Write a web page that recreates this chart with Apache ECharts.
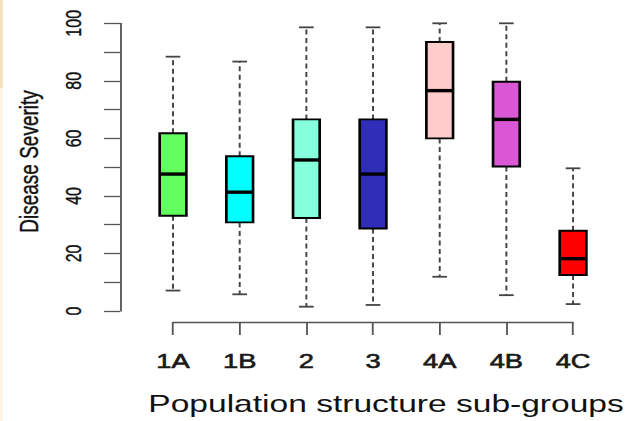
<!DOCTYPE html>
<html>
<head>
<meta charset="utf-8">
<script src="https://cdn.jsdelivr.net/npm/echarts@6/dist/echarts.min.js"></script>
<style>
html,body{margin:0;padding:0;background:#fff;overflow:hidden;width:642px;height:421px;}
#chart{width:459px;height:421px;transform:scaleX(1.39869);transform-origin:0 0;}
</style>
</head>
<body>
<div id="chart"></div>
<script>
// ---- data ----
const categories = ['1A', '1B', '2', '3', '4A', '4B', '4C'];
const lowWhisker    = [7.1, 5.8, 1.5, 2.1, 11.9, 5.5, 2.4];
const lowerQuartile = [33.1, 30.8, 32.3, 28.7, 60.0, 50.2, 12.5];
const medians       = [47.6, 41.3, 52.5, 47.6, 76.6, 66.6, 18.2];
const upperQuartile = [61.8, 53.8, 66.6, 66.6, 93.5, 79.7, 27.9];
const highWhisker   = [88.4, 86.7, 98.6, 98.6, 100, 100, 49.6];
const yTickLabels   = [0, 20, 40, 60, 80, 100];

// ---- styling ----
const boxColors = ['#62FF5E', '#00FFFF', '#85FFDC', '#2E2EB8', '#FFCCCC', '#DA58D6', '#FF0000'];
const FONT = 'Liberation Sans, Arial, sans-serif';

const boxData = categories.map((c, i) => [i, lowWhisker[i], lowerQuartile[i], medians[i], upperQuartile[i], highWhisker[i]]);

function renderBox(params, api) {
  const i = api.value(0);
  const pLow = api.coord([i, api.value(1)]);
  const pQ1 = api.coord([i, api.value(2)]);
  const pMed = api.coord([i, api.value(3)]);
  const pQ3 = api.coord([i, api.value(4)]);
  const pHigh = api.coord([i, api.value(5)]);
  const unit = api.size([1, 0])[0];
  const hw = unit * 0.2;
  const sw = unit * 0.11;
  const x = pLow[0];
  const dash = { stroke: '#444', lineWidth: 1.4, lineDash: [5, 3.5] };
  const cap = { stroke: '#444', lineWidth: 1.8 };
  return {
    type: 'group',
    children: [
      { type: 'line', shape: { x1: x, y1: pQ3[1], x2: x, y2: pHigh[1] }, style: dash },
      { type: 'line', shape: { x1: x, y1: pQ1[1], x2: x, y2: pLow[1] }, style: dash },
      { type: 'line', shape: { x1: x - sw, y1: pHigh[1], x2: x + sw, y2: pHigh[1] }, style: cap },
      { type: 'line', shape: { x1: x - sw, y1: pLow[1], x2: x + sw, y2: pLow[1] }, style: cap },
      { type: 'rect', shape: { x: x - hw, y: pQ3[1], width: 2 * hw, height: pQ1[1] - pQ3[1] },
        style: { fill: boxColors[i], stroke: '#000', lineWidth: 1.9 } },
      { type: 'line', shape: { x1: x - hw, y1: pMed[1], x2: x + hw, y2: pMed[1] },
        style: { stroke: '#000', lineWidth: 3.4 } }
    ]
  };
}

const chart = echarts.init(document.getElementById('chart'), null, { renderer: 'svg' });
chart.setOption({
  backgroundColor: '#fff',
  animation: false,
  graphic: [
    { type: 'rect', shape: { x: 0, y: 0, width: 2, height: 88 }, style: { fill: '#F4E0BA' } },
    { type: 'rect', shape: { x: 0, y: 88, width: 2, height: 333 }, style: { fill: '#FCF3E2' } }
  ],
  grid: { left: 123.7, right: 49.3, top: 23.3, bottom: 110, containLabel: false },
  xAxis: {
    type: 'category',
    data: categories,
    boundaryGap: false,
    offset: 11,
    axisLine: { show: true, onZero: false, lineStyle: { color: '#555', width: 1.3 } },
    axisTick: { show: true, length: 13, alignWithLabel: true, lineStyle: { color: '#555', width: 1.3 } },
    axisLabel: { margin: 29.75, fontSize: 19.5, color: '#1a1a1a', fontFamily: FONT, interval: 0,
      textBorderColor: '#1a1a1a', textBorderWidth: 0.6 },
    splitLine: { show: false },
    name: 'Population structure sub-groups',
    nameLocation: 'middle',
    nameGap: 69.5,
    nameTextStyle: { fontSize: 24, color: '#111', fontFamily: FONT, padding: [0, 0, 0, 18.6] }
  },
  yAxis: {
    type: 'value',
    min: 0,
    max: 100,
    interval: 10,
    offset: 37.9,
    axisLine: { show: true, onZero: false, lineStyle: { color: '#555', width: 1.3 } },
    axisTick: { show: true, length: 11.4, lineStyle: { color: '#555', width: 1.3 } },
    axisLabel: {
      rotate: 90, margin: 26, fontSize: 16, color: '#111', fontFamily: FONT,
      textBorderColor: '#111', textBorderWidth: 0.3,
      formatter: v => (yTickLabels.indexOf(v) >= 0 ? String(v) : '')
    },
    splitLine: { show: false },
    name: 'Disease Severity',
    nameLocation: 'middle',
    nameGap: 55.9,
    nameTextStyle: { fontSize: 19, color: '#111', fontFamily: FONT, padding: [0, 0, 0, 11.4],
      textBorderColor: '#111', textBorderWidth: 0.3 }
  },
  series: [{
    type: 'custom',
    renderItem: renderBox,
    data: boxData,
    encode: { x: 0, y: [1, 2, 3, 4, 5] }
  }]
});
</script>
</body>
</html>
